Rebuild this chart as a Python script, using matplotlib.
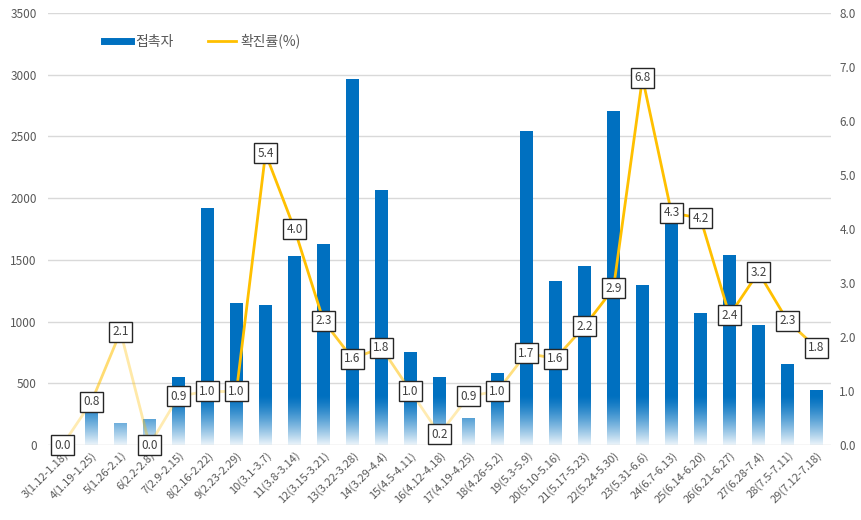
import numpy as np
import matplotlib
matplotlib.use("Agg")
import matplotlib.pyplot as plt
from matplotlib.collections import LineCollection

plt.rcParams['font.family'] = ['Noto Sans CJK KR', 'DejaVu Sans']

weeks = ["3(1.12-1.18)", "4(1.19-1.25)", "5(1.26-2.1)", "6(2.2-2.8)", "7(2.9-2.15)",
         "8(2.16-2.22)", "9(2.23-2.29)", "10(3.1-3.7)", "11(3.8-3.14)", "12(3.15-3.21)",
         "13(3.22-3.28)", "14(3.29-4.4)", "15(4.5-4.11)", "16(4.12-4.18)", "17(4.19-4.25)",
         "18(4.26-5.2)", "19(5.3-5.9)", "20(5.10-5.16)", "21(5.17-5.23)", "22(5.24-5.30)",
         "23(5.31-6.6)", "24(6.7-6.13)", "25(6.14-6.20)", "26(6.21-6.27)", "27(6.28-7.4)",
         "28(7.5-7.11)", "29(7.12-7.18)"]
contacts = [0, 265, 176, 210, 550, 1920, 1148, 1137, 1534, 1627, 2965, 2066, 751,
            553, 216, 583, 2544, 1331, 1453, 2703, 1296, 1800, 1067, 1539, 970, 654, 443]
rate = [0.0, 0.8, 2.1, 0.0, 0.9, 1.0, 1.0, 5.4, 4.0, 2.3, 1.6, 1.8, 1.0,
        0.2, 0.9, 1.0, 1.7, 1.6, 2.2, 2.9, 6.8, 4.3, 4.2, 2.4, 3.2, 2.3, 1.8]

BLUE = '#0070C0'
GOLD = '#FFC000'
TXT = '#595959'

fig = plt.figure(figsize=(8.62, 5.2), dpi=100)
ax = fig.add_axes([0.0557, 0.1442, 0.9083, 0.8308])
x = np.arange(len(weeks))

ax.bar(x, contacts, width=0.42, color=BLUE, zorder=2)
ax.set_xlim(-0.5, len(weeks) - 0.5)
ax.set_ylim(0, 3500)
ax.set_yticks(np.arange(0, 3501, 500))
ax.grid(axis='y', color='#D9D9D9', linewidth=1, zorder=0)
ax.set_axisbelow(True)

# white fade at the bottom of the bars
n = 256
t = np.linspace(0, 1, n)
alpha = 0.93 * (1 - t) ** 1.3
grad = np.ones((n, 1, 4))
grad[:, 0, 3] = alpha
ax.imshow(grad, extent=(-0.5, len(weeks) - 0.5, 0, 400), origin='lower',
          aspect='auto', zorder=2.5, interpolation='bilinear')
ax.set_xlim(-0.5, len(weeks) - 0.5)
ax.set_ylim(0, 3500)
ax.axhline(0, color='#D9D9D9', linewidth=1, zorder=2.6)

for s in ax.spines.values():
    s.set_visible(False)
ax.tick_params(axis='both', length=0, colors=TXT, labelsize=8.5)
ax.set_xticks(x)
ax.set_xticklabels(weeks, rotation=45, ha='right', rotation_mode='anchor', fontsize=8)
ax.tick_params(axis='y', pad=8)

ax2 = ax.twinx()
ax2.set_ylim(0, 8)
ax2.set_yticks(np.arange(0, 8.1, 1))
ax2.set_yticklabels([f"{v:.1f}" for v in np.arange(0, 8.1, 1)])
for s in ax2.spines.values():
    s.set_visible(False)
ax2.tick_params(axis='y', length=0, colors=TXT, labelsize=8.5, pad=6)

pts = np.column_stack([x, rate])
segs = np.stack([pts[:-1], pts[1:]], axis=1)
cols = []
for i in range(len(rate) - 1):
    m = (rate[i] + rate[i + 1]) / 2
    a = float(np.clip((m - 0.4) / 1.9, 0.3, 1.0))
    cols.append(matplotlib.colors.to_rgba(GOLD, a))
lc = LineCollection(segs, colors=cols, linewidths=2.0, zorder=3)
ax2.add_collection(lc)

for xi, r in zip(x, rate):
    ax2.text(xi, r, f"{r:.1f}", ha='center', va='center', fontsize=8.5, color='#404040',
             zorder=5,
             bbox=dict(boxstyle='square,pad=0.3', fc='white', ec='#262626', lw=1.0))

# legend
from matplotlib.lines import Line2D
handles = [Line2D([0], [0], color=BLUE, lw=5), Line2D([0], [0], color=GOLD, lw=2)]
leg = ax.legend(handles, ['접촉자', '확진률(%)'], loc='center left',
                bbox_to_anchor=(0.055, 0.935), ncol=2, frameon=False,
                fontsize=10, handlelength=2.0, columnspacing=2.5, handletextpad=0.3)
for tx in leg.get_texts():
    tx.set_color(TXT)

fig.savefig('out.png', dpi=100)
